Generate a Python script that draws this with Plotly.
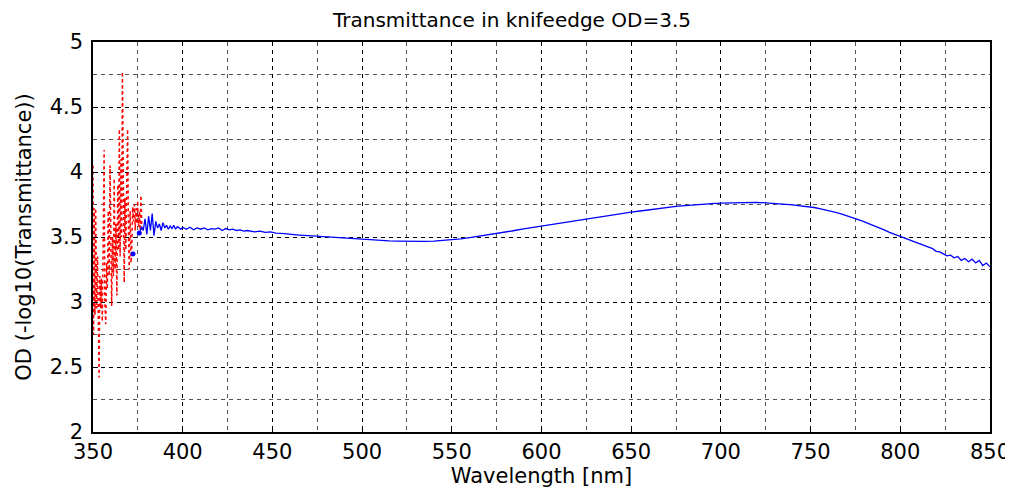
import plotly.graph_objects as go

# Red dotted (noisy UV part)
red_wl = [350.0, 350.3, 350.7, 351.1, 351.5, 352.0, 352.5, 353.0, 353.4, 353.8, 354.3, 354.7,
          355.2, 355.7, 356.2, 356.6, 357.1, 357.6, 358.0, 358.5, 359.0, 359.5, 360.0, 360.4,
          360.9, 361.4, 361.8, 362.3, 362.8, 363.3, 363.8, 364.2, 364.7, 365.1, 365.6, 366.0,
          366.4, 366.9, 367.4, 367.8, 368.3, 368.8, 369.3, 369.8, 370.2, 370.7, 371.2, 371.6,
          372.1, 372.6, 373.1, 373.5, 374.0, 374.4, 374.9, 375.4, 375.9, 376.3, 376.7, 377.3]
red_od = [4.05, 2.75, 3.72, 2.90, 3.72, 2.95, 3.35, 2.90, 2.42, 3.20, 2.95, 3.18,
          2.85, 3.50, 4.17, 3.00, 2.83, 3.30, 3.10, 3.70, 3.20, 4.05, 3.40, 2.97,
          3.50, 3.20, 3.95, 3.25, 3.60, 3.05, 3.90, 3.40, 4.33, 3.35, 4.10, 3.50,
          4.77, 3.60, 3.15, 3.80, 3.40, 3.90, 4.33, 3.50, 3.25, 3.70, 3.30, 3.38,
          3.73, 3.62, 3.75, 3.55, 3.72, 3.60, 3.78, 3.58, 3.70, 3.55, 3.82, 3.55]

# Blue markers
dot_wl = [372.3, 375.8]
dot_od = [3.37, 3.53]

# Blue main curve
blue_wl = [376, 377, 378, 379, 380, 381, 382, 383, 384, 385, 386, 387, 388, 389, 390,
           391, 392, 393, 394, 395, 396, 397, 398, 399, 400,
           402, 404, 406, 408, 410, 412, 414, 416, 418, 420, 422, 424, 426, 428, 430,
           432, 434, 436, 438, 440, 443, 446, 449, 452, 455, 460, 465, 470, 475,
           480, 485, 490, 495, 500, 505, 510, 515, 520, 525, 530, 535, 540, 545, 550,
           555, 560, 565, 570, 575, 580, 585, 590, 595, 600, 605, 610, 615, 620, 625,
           630, 635, 640, 645, 650, 655, 660, 665, 670, 675, 680, 685, 690, 695, 700,
           705, 710, 715, 720, 725, 728, 731, 734, 737, 740, 743, 746, 749, 752, 755,
           758, 761, 764, 767, 770, 773, 776, 779, 782, 785, 788, 791, 794, 797, 800,
           802, 804, 806, 808, 810, 812, 814, 816, 818, 820, 822, 824, 826, 828, 830,
           832, 834, 836, 838, 840, 842, 844, 846, 848, 850]
blue_od = [3.53, 3.58, 3.55, 3.64, 3.52, 3.66, 3.55, 3.68, 3.51, 3.62, 3.57, 3.60, 3.55, 3.61, 3.57,
           3.59, 3.56, 3.585, 3.565, 3.59, 3.56, 3.58, 3.57, 3.56, 3.575,
           3.56, 3.575, 3.555, 3.57, 3.56, 3.57, 3.555, 3.565, 3.56, 3.57, 3.55, 3.565, 3.555, 3.56, 3.55,
           3.555, 3.545, 3.55, 3.545, 3.54, 3.545, 3.535, 3.54, 3.53, 3.528, 3.52, 3.515, 3.51, 3.505,
           3.50, 3.495, 3.49, 3.488, 3.485, 3.48, 3.475, 3.47, 3.468, 3.466, 3.465, 3.466, 3.468, 3.472, 3.477,
           3.485, 3.495, 3.505, 3.515, 3.525, 3.538, 3.55, 3.562, 3.573, 3.585, 3.597, 3.608, 3.62, 3.63, 3.64,
           3.65, 3.662, 3.672, 3.682, 3.692, 3.70, 3.71, 3.718, 3.727, 3.735, 3.742, 3.748, 3.753, 3.757, 3.76,
           3.762, 3.765, 3.763, 3.766, 3.762, 3.76, 3.757, 3.755, 3.75, 3.747, 3.742, 3.738, 3.733, 3.727, 3.718,
           3.71, 3.70, 3.69, 3.678, 3.665, 3.652, 3.636, 3.622, 3.605, 3.59, 3.57, 3.555, 3.535, 3.52, 3.50,
           3.49, 3.485, 3.47, 3.465, 3.45, 3.445, 3.43, 3.42, 3.41, 3.39, 3.385, 3.37, 3.355, 3.36, 3.34,
           3.35, 3.32, 3.335, 3.31, 3.33, 3.30, 3.32, 3.28, 3.30, 3.27]

FONT = "DejaVu Sans, Liberation Sans, Arial, sans-serif"
GRIDDASH = "4px,4px"

fig = go.Figure()
fig.add_trace(go.Scatter(x=red_wl, y=red_od, mode="lines",
                         line=dict(color="red", width=1.5, dash="dot"), showlegend=False))
fig.add_trace(go.Scatter(x=blue_wl, y=blue_od, mode="lines",
                         line=dict(color="blue", width=1.3), showlegend=False))
fig.add_trace(go.Scatter(x=dot_wl, y=dot_od, mode="markers",
                         marker=dict(color="blue", size=5), showlegend=False))

axis_common = dict(showline=True, linecolor="black", linewidth=1.5, mirror=True,
                   ticks="inside", ticklen=5, tickcolor="black", automargin=False,
                   showgrid=True, gridcolor="black", griddash=GRIDDASH, gridwidth=1,
                   zeroline=False, tickfont=dict(family=FONT, size=21, color="black"))

fig.update_xaxes(range=[350, 850], dtick=50, tick0=350, ticklabelstandoff=0,
                 minor=dict(dtick=25, showgrid=True, gridcolor="#555", griddash=GRIDDASH, ticks=""),
                 title=dict(text="Wavelength [nm]", font=dict(family=FONT, size=21, color="black"), standoff=2),
                 **axis_common)
fig.update_yaxes(range=[2, 5], dtick=0.5, tick0=2, ticklabelstandoff=4,
                 minor=dict(dtick=0.25, showgrid=True, gridcolor="#555", griddash=GRIDDASH, ticks=""),
                 title=dict(text="OD (-log10(Transmittance))", font=dict(family=FONT, size=21, color="black"), standoff=12),
                 **axis_common)

# The page body adds an 8px offset, so the figure is sized to fit the window.
fig.update_layout(
    width=1005, height=489,
    margin=dict(l=85, r=23, t=34, b=65),
    paper_bgcolor="white", plot_bgcolor="white",
    title=dict(text="Transmittance in knifeedge OD=3.5", x=0.5015, xanchor="center",
               y=0.975, yanchor="middle", font=dict(family=FONT, size=20, color="black")),
)

fig.write_html("out.html")
